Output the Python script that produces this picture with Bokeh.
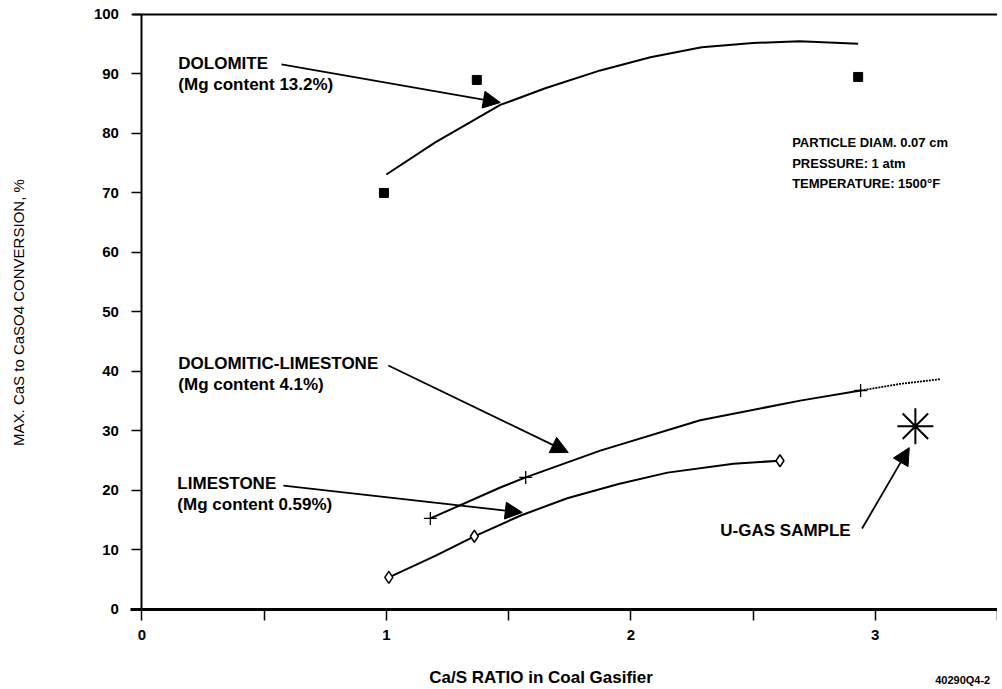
import math
from bokeh.plotting import figure
from bokeh.models import Range1d, FixedTicker, Arrow, NormalHead, Label, LinearAxis
from bokeh.embed import file_html
from bokeh.resources import INLINE

# ---- data ----
# Dolomite (Mg 13.2%) measured points and fitted curve
dolo_ratio = [0.99, 1.37, 2.93]
dolo_conv = [70.0, 89.0, 89.5]
dolo_fit_ratio = [1.00, 1.20, 1.466, 1.65, 1.875, 2.08, 2.29, 2.50, 2.69, 2.93]
dolo_fit_conv = [73.1, 78.5, 84.8, 87.6, 90.6, 92.8, 94.5, 95.2, 95.5, 95.1]

# Dolomitic-limestone (Mg 4.1%)
dlime_ratio = [1.18, 1.57, 2.94]
dlime_conv = [15.3, 22.2, 36.8]
dlime_fit_ratio = [1.18, 1.466, 1.57, 1.875, 2.284, 2.693, 2.94]
dlime_fit_conv = [15.3, 20.5, 22.2, 26.7, 31.8, 35.1, 36.8]
dlime_ext_ratio = [2.94, 3.10, 3.265]
dlime_ext_conv = [36.8, 37.9, 38.7]

# Limestone (Mg 0.59%)
lime_ratio = [1.01, 1.36, 2.61]
lime_conv = [5.4, 12.3, 25.0]
lime_fit_ratio = [1.01, 1.20, 1.36, 1.55, 1.74, 1.95, 2.15, 2.42, 2.61]
lime_fit_conv = [5.4, 9.0, 12.3, 15.8, 18.7, 21.1, 23.0, 24.5, 25.0]

# U-GAS sample
ugas_ratio = [3.164]
ugas_conv = [30.8]

x_ticks = [0, 1, 2, 3]
x_minor_ticks = [0.5, 1.5, 2.5, 3.5]
y_ticks = [0, 10, 20, 30, 40, 50, 60, 70, 80, 90, 100]

FONT = "Liberation Sans"

# The frame fills the whole canvas; axes are fixed at x=0 / y=0 so that every
# text (axis titles, figure code) lies inside the frame.
p = figure(frame_width=997, frame_height=689,
           x_range=Range1d(-0.5785, 3.5), y_range=Range1d(-13.45, 102.35),
           output_backend="svg", toolbar_location=None,
           min_border_left=0, min_border_right=0,
           min_border_top=0, min_border_bottom=0)
p.outline_line_color = None
p.grid.visible = False
p.background_fill_color = "white"
p.border_fill_color = "white"

# axes
p.xaxis.ticker = FixedTicker(ticks=x_ticks, minor_ticks=x_minor_ticks)
p.yaxis.ticker = FixedTicker(ticks=y_ticks, minor_ticks=[])
for ax in (p.xaxis[0], p.yaxis[0]):
    ax.major_tick_in = 0
    ax.minor_tick_in = 0
    ax.major_tick_line_color = "black"
    ax.major_tick_line_width = 1.5
    ax.minor_tick_line_width = 1.5
    ax.major_label_text_font = FONT
    ax.major_label_text_font_style = "bold"
    ax.major_label_text_font_size = "15px"
    ax.major_label_text_color = "black"
    ax.axis_line_color = "black"

p.xaxis.fixed_location = 0
p.xaxis.bounds = (-0.047, 3.5)
p.xaxis.major_tick_out = 11
p.xaxis.minor_tick_out = 11
p.xaxis.axis_line_width = 3
p.xaxis.major_label_standoff = 10

p.yaxis.fixed_location = 0
p.yaxis.bounds = (0, 100)
p.yaxis.major_tick_out = 10
p.yaxis.minor_tick_out = 0
p.yaxis.axis_line_width = 2
p.yaxis.major_label_standoff = 13

# top border line of the plot box
top = LinearAxis(fixed_location=100, bounds=(-0.04, 3.5), ticker=FixedTicker(ticks=[]),
                 axis_line_width=2, axis_line_color="black",
                 major_tick_out=0, minor_tick_out=0, major_tick_in=0, minor_tick_in=0)
p.add_layout(top, "above")

# curves
p.line(dolo_fit_ratio, dolo_fit_conv, line_color="black", line_width=2)
p.line(dlime_fit_ratio, dlime_fit_conv, line_color="black", line_width=2)
p.line(dlime_ext_ratio, dlime_ext_conv, line_color="black", line_width=1.8, line_dash="2 1")
p.line(lime_fit_ratio, lime_fit_conv, line_color="black", line_width=2)

# markers
p.scatter(dolo_ratio, dolo_conv, marker="square", size=9, fill_color="black", line_color="black")
p.scatter(dlime_ratio, dlime_conv, marker="cross", size=13, line_color="black", line_width=1.3)
p.scatter(lime_ratio, lime_conv, marker="diamond", size=12, fill_color="white", line_color="black", line_width=1.5)
p.scatter(ugas_ratio, ugas_conv, marker="asterisk", size=36, line_color="black", line_width=2)

# arrows
arrows = [
    (0.571, 91.6, 1.466, 85.2),
    (1.008, 41.0, 1.744, 26.4),
    (0.579, 20.8, 1.556, 16.3),
    (2.946, 13.6, 3.139, 27.2),
]
for xs, ys, xe, ye in arrows:
    p.add_layout(Arrow(end=NormalHead(size=17, fill_color="black", line_color="black"),
                       x_start=xs, y_start=ys, x_end=xe, y_end=ye,
                       line_color="black", line_width=1.8))

# labels
def lab(x, y, text, size="17px", style="bold", align="left", angle=0.0):
    p.add_layout(Label(x=x, y=y, text=text, text_font=FONT, text_font_style=style,
                       text_font_size=size, text_align=align, text_baseline="middle",
                       text_color="black", angle=angle))

# axis titles
lab(1.633, -11.4, "Ca/S RATIO in Coal Gasifier", size="17px", align="center")
lab(-0.505, 49.9, "MAX. CaS to CaSO4 CONVERSION, %", size="15px", style="normal",
    align="center", angle=math.pi / 2)

lab(0.149, 91.8, "DOLOMITE")
lab(0.149, 88.3, "(Mg content 13.2%)")
lab(0.149, 41.3, "DOLOMITIC-LIMESTONE")
lab(0.149, 37.8, "(Mg content 4.1%)")
lab(0.145, 21.2, "LIMESTONE")
lab(0.145, 17.7, "(Mg content 0.59%)")
lab(2.366, 13.3, "U-GAS SAMPLE")
lab(2.660, 78.5, "PARTICLE DIAM. 0.07 cm", size="13px")
lab(2.660, 75.0, "PRESSURE: 1 atm", size="13px")
lab(2.660, 71.6, "TEMPERATURE: 1500°F", size="13px")
lab(3.245, -11.9, "40290Q4-2", size="11px")

open("out.html", "w").write(file_html(p, INLINE))
